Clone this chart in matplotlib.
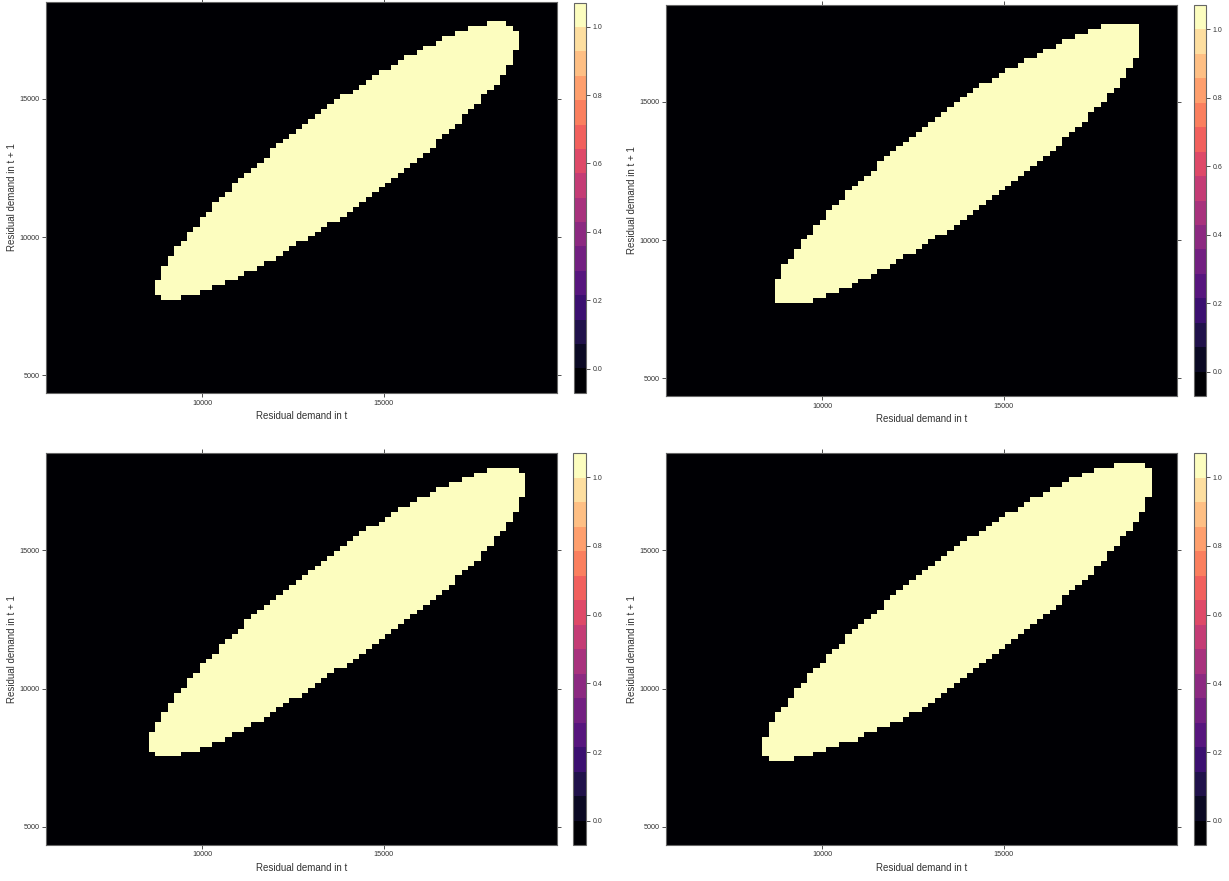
import numpy as np
import matplotlib
matplotlib.use('agg')
import matplotlib.pyplot as plt
from matplotlib.colors import BoundaryNorm
from matplotlib.cm import ScalarMappable

plt.rcParams['font.family'] = ['Liberation Sans', 'DejaVu Sans']

# evaluation grid (80 x 80 cells) in residual demand units
x_range = (5700, 19780)
y_range = (4350, 18530)
n_cells = 80

x_ticks = [10000, 15000]
y_ticks = [5000, 10000, 15000]
bar_ticks = [0.0, 0.2, 0.4, 0.6, 0.8, 1.0]
x_label = "Residual demand in t"
y_label = "Residual demand in t + 1"

# region = 1 : first grid column, then lowest / highest grid row of every column
p1_col0 = 17
p1_lo = [20, 19, 19, 19, 20, 20, 20, 21, 21, 22, 22, 23, 23, 24, 25, 25, 26, 27, 27, 28,
         29, 30, 31, 31, 32, 33, 34, 35, 35, 36, 37, 38, 39, 40, 41, 42, 43, 44, 45, 46,
         47, 48, 49, 50, 52, 53, 54, 55, 57, 58, 59, 61, 62, 63, 65, 67, 70]
p1_hi = [22, 25, 27, 29, 30, 32, 33, 35, 36, 38, 39, 40, 42, 43, 44, 45, 46, 47, 49, 50,
         51, 52, 53, 54, 55, 56, 57, 58, 59, 60, 60, 61, 62, 63, 64, 65, 65, 66, 67, 68,
         68, 69, 70, 70, 71, 72, 72, 73, 73, 74, 74, 74, 75, 75, 75, 74, 73]

p2_col0 = 17
p2_lo = [19, 19, 19, 19, 19, 19, 20, 20, 21, 21, 22, 22, 23, 24, 24, 25, 26, 26, 27, 28,
         29, 29, 30, 31, 32, 33, 33, 34, 35, 36, 37, 38, 39, 40, 41, 42, 43, 44, 45, 46,
         47, 48, 49, 50, 51, 53, 54, 55, 56, 58, 59, 60, 62, 63, 65, 67, 69]
p2_hi = [23, 26, 27, 29, 31, 32, 34, 35, 37, 38, 39, 41, 42, 43, 44, 45, 47, 48, 49, 50,
         51, 52, 53, 54, 55, 56, 57, 58, 59, 60, 61, 62, 63, 63, 64, 65, 66, 66, 67, 68,
         68, 69, 70, 70, 71, 72, 72, 73, 73, 74, 74, 75, 75, 75, 75, 75, 75]

p3_col0 = 16
p3_lo = [19, 18, 18, 18, 18, 19, 19, 19, 20, 20, 21, 21, 22, 23, 23, 24, 25, 25, 26, 27,
         28, 29, 30, 30, 31, 32, 33, 34, 35, 36, 36, 37, 38, 39, 40, 41, 42, 43, 44, 45,
         46, 47, 48, 49, 50, 51, 52, 53, 55, 56, 57, 58, 60, 61, 63, 64, 66, 68, 71]
p3_hi = [22, 24, 26, 28, 30, 31, 33, 34, 36, 37, 38, 40, 41, 42, 43, 45, 46, 47, 48, 49,
         50, 51, 52, 53, 54, 55, 56, 57, 58, 59, 60, 61, 62, 63, 64, 64, 65, 66, 67, 68,
         68, 69, 70, 70, 71, 72, 72, 73, 73, 74, 74, 75, 75, 76, 76, 76, 76, 76, 75]

p4_col0 = 15
p4_lo = [18, 17, 17, 17, 17, 18, 18, 18, 19, 19, 20, 20, 21, 21, 21, 22, 23, 23, 24, 24,
         25, 25, 26, 27, 27, 28, 29, 30, 31, 32, 33, 34, 35, 36, 37, 38, 39, 40, 41, 42,
         43, 44, 45, 46, 47, 48, 49, 51, 52, 53, 54, 55, 57, 58, 60, 61, 63, 64, 66, 68, 71]
p4_hi = [21, 24, 26, 27, 29, 31, 32, 34, 35, 36, 38, 39, 40, 42, 43, 44, 45, 46, 47, 49,
         50, 51, 52, 53, 54, 55, 56, 57, 58, 59, 60, 61, 62, 62, 63, 64, 65, 66, 67, 67,
         68, 69, 70, 70, 71, 72, 72, 73, 74, 74, 75, 75, 76, 76, 76, 77, 77, 77, 77, 77, 76]

panels = [(p1_col0, p1_lo, p1_hi), (p2_col0, p2_lo, p2_hi),
          (p3_col0, p3_lo, p3_hi), (p4_col0, p4_lo, p4_hi)]

W, H = 1229, 881
# pixel boxes (left, top, right, bottom) of every panel and its colour key
panel_px = [(46.4, 1.5, 557.4, 393), (666.4, 4.5, 1177.4, 396),
            (46.4, 453, 557.4, 844.5), (666.4, 453, 1177.4, 844.5)]
key_px = [(574, 2.7, 586, 392.7), (1194, 5, 1206, 396),
          (573, 453, 586, 845), (1194, 453, 1206, 845)]


def frac(box):
    l, t, r, b = box
    return [l / W, 1 - b / H, (r - l) / W, (b - t) / H]


def region(col0, lo, hi):
    z = np.zeros((n_cells, n_cells))
    for i, (a, b) in enumerate(zip(lo, hi)):
        z[a:b + 1, col0 + i] = 1
    return z


x_edges = np.linspace(x_range[0], x_range[1], n_cells + 1)
y_edges = np.linspace(y_range[0], y_range[1], n_cells + 1)

# lattice style key: 16 magma bands over the extended range
levels = np.linspace(-0.07, 1.07, 17)
cmap = plt.get_cmap('magma', 16)
norm = BoundaryNorm(levels, cmap.N)

text_col = '#333333'
edge_col = '#666666'

fig = plt.figure(figsize=(W / 100, H / 100), dpi=100)

for (col0, lo, hi), pbox, kbox in zip(panels, panel_px, key_px):
    ax = fig.add_axes(frac(pbox))
    ax.pcolormesh(x_edges, y_edges, region(col0, lo, hi), cmap=cmap, norm=norm)
    ax.set_xlim(x_range)
    ax.set_ylim(y_range)
    ax.set_xticks(x_ticks)
    ax.set_yticks(y_ticks)
    ax.tick_params(direction='out', length=3, width=0.6, top=True, right=True,
                   labelsize=5.2, colors=text_col, pad=2)
    for s in ax.spines.values():
        s.set_color(edge_col)
        s.set_linewidth(0.8)
    ax.set_xlabel(x_label, fontsize=7, color=text_col, labelpad=3)
    ax.set_ylabel(y_label, fontsize=7, color=text_col, labelpad=2)

    cax = fig.add_axes(frac(kbox))
    cb = fig.colorbar(ScalarMappable(norm=norm, cmap=cmap), cax=cax,
                      ticks=bar_ticks, format='%.1f')
    cb.minorticks_off()
    cb.outline.set_edgecolor(edge_col)
    cb.outline.set_linewidth(0.8)
    cax.tick_params(direction='out', length=3, width=0.6, labelsize=5,
                    colors=text_col, pad=2)

fig.savefig('out.png', dpi=100)
